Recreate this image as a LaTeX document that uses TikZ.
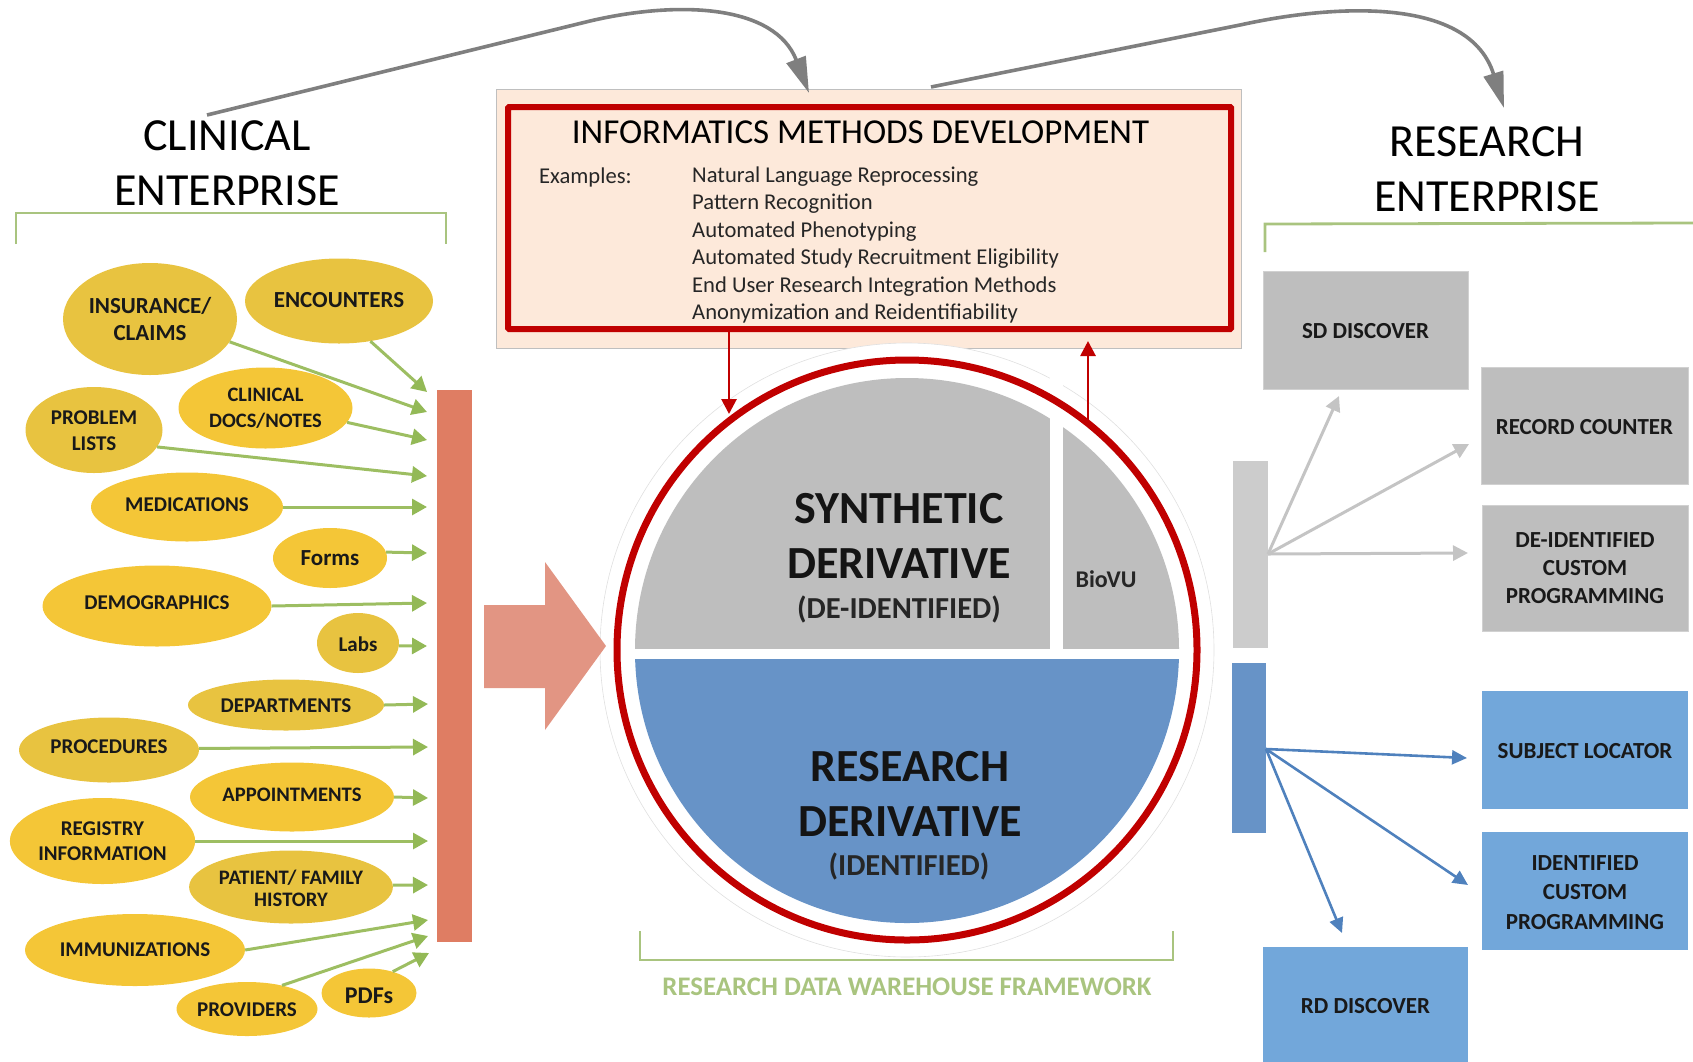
\documentclass[tikz,border=0pt]{standalone}
\usepackage{fontspec}
\setmainfont{Carlito}
\usetikzlibrary{shapes.geometric,arrows.meta}
\definecolor{ybright}{HTML}{F4C637}
\definecolor{ydark}{HTML}{E8C340}
\definecolor{gline}{HTML}{9DBE62}
\definecolor{gtip}{HTML}{93B956}
\definecolor{salmon}{HTML}{DF7D63}
\definecolor{bigarrow}{HTML}{E29583}
\definecolor{peach}{HTML}{FDE9DA}
\definecolor{dred}{HTML}{C00000}
\definecolor{midgrey}{HTML}{BEBEBE}
\definecolor{lightbar}{HTML}{CCCCCC}
\definecolor{arrgrey}{HTML}{C4C4C4}
\definecolor{wblue}{HTML}{6793C7}
\definecolor{boxblue}{HTML}{72A7DA}
\definecolor{arrblue}{HTML}{4F81BD}
\definecolor{topgrey}{HTML}{7F7F7F}
\definecolor{frame}{HTML}{A9C47F}
\newcommand{\shifty}[2]{\raisebox{#1}{#2}}
\newcommand{\lift}[1]{\rule{0pt}{#1}}
\tikzset{
  oval/.style={ellipse,inner sep=0pt,align=center,font=\fontsize{21}{26}\selectfont\bfseries,text=black!90},
  yb/.style={oval,fill=ybright},
  yd/.style={oval,fill=ydark},
  feed/.style={draw=gline,line width=3pt,-{Triangle[length=15pt,width=16pt,color=gtip]}},
  boxg/.style={rectangle,inner sep=0pt,align=center,fill=midgrey,font=\fontsize{23}{28}\selectfont\bfseries,text=black!90,draw=black!18,line width=.6pt},
  boxb/.style={boxg,fill=boxblue,draw=none},
  fangrey/.style={draw=arrgrey,line width=3pt,-{Triangle[length=15pt,width=15pt]}},
  fanblue/.style={draw=arrblue,line width=2.6pt,-{Triangle[length=15pt,width=14pt]}},
  redarrow/.style={draw=dred,line width=2.8pt,-{Triangle[length=15pt,width=15pt]}},
  toparrow/.style={draw=topgrey,line width=3.6pt,-{Triangle[length=36pt,width=20pt]}},
  headtext/.style={font=\fontsize{46}{55}\selectfont,align=center,text=black},
  bracket/.style={draw=frame,line width=2.8pt},
  bigtext/.style={font=\fontsize{46}{55}\selectfont\bfseries,align=center,text=black!92},
  subtext/.style={font=\fontsize{30.5}{34}\selectfont\bfseries,text=black!85},
  itemtext/.style={anchor=west,font=\fontsize{22.6}{27}\selectfont,text=black!85,inner sep=0pt},
}
\begin{document}
\begin{tikzpicture}[x=1pt,y=-1pt]
\useasboundingbox (0,0) rectangle (1693,1061);

% headings and brackets
\node[headtext] (clin) at (227,163) {CLINICAL\\ENTERPRISE};
\node[headtext] (rese) at (1487,169) {RESEARCH\\ENTERPRISE};
\draw[bracket] (16,244) -- (16,213) -- (446,213) -- (446,244);
\draw[bracket] (1265,252) -- (1265,224) -- (1693,223);

% salmon bar
\node[rectangle,fill=salmon,inner sep=0pt,minimum width=35pt,minimum height=552pt] (bar) at (454.5,666) {};

% ovals
\node[yd,font=\fontsize{23}{27}\selectfont\bfseries,minimum width=174pt,minimum height=112pt] (ins) at (150,319) {INSURANCE/\\CLAIMS};
\node[yd,font=\fontsize{23}{27}\selectfont\bfseries,minimum width=188pt,minimum height=85pt] (enc) at (339,301) {\shifty{3pt}{ENCOUNTERS}};
\node[yb,font=\fontsize{20.5}{26}\selectfont\bfseries,minimum width=174pt,minimum height=81pt] (cli) at (265.5,408) {CLINICAL\\DOCS/NOTES};
\node[yd,font=\fontsize{21}{26}\selectfont\bfseries,minimum width=137pt,minimum height=86pt] (pro) at (94,430) {\lift{16pt}PROBLEM\\LISTS};
\node[yb,minimum width=192pt,minimum height=69pt] (med) at (187,507) {\shifty{4pt}{MEDICATIONS}};
\node[yb,font=\fontsize{23}{26}\selectfont\bfseries,minimum width=114pt,minimum height=60pt] (for) at (330,558) {Forms};
\node[yb,minimum width=229pt,minimum height=81pt] (dem) at (157,606) {\shifty{7pt}{DEMOGRAPHICS}};
\node[yd,minimum width=82pt,minimum height=60pt] (lab) at (358,643) {\lift{17pt}Labs};
\node[yd,minimum width=196pt,minimum height=51pt] (dep) at (286,705) {\lift{16pt}DEPARTMENTS};
\node[yd,minimum width=180pt,minimum height=65pt] (prc) at (109,750) {\shifty{7pt}{PROCEDURES}};
\node[yb,font=\fontsize{20.6}{26}\selectfont\bfseries,minimum width=204pt,minimum height=69pt] (app) at (292,797) {\shifty{4pt}{APPOINTMENTS}};
\node[yb,font=\fontsize{21}{25}\selectfont\bfseries,minimum width=185pt,minimum height=86pt] (reg) at (102.5,841) {\shifty{4pt}{\parbox{131pt}{\centering REGISTRY\\INFORMATION}}};
\node[yd,font=\fontsize{20.6}{22}\selectfont\bfseries,minimum width=202pt,minimum height=73pt] (pat) at (291,887) {\lift{18pt}PATIENT/ FAMILY\\HISTORY};
\node[yb,minimum width=220pt,minimum height=72pt] (imm) at (135,950) {IMMUNIZATIONS};
\node[yb,minimum width=141pt,minimum height=54pt] (prv) at (247,1009) {\lift{16pt}PROVIDERS};
\node[yb,font=\fontsize{24}{26}\selectfont\bfseries,minimum width=95pt,minimum height=49pt] (pdf) at (369,993) {\lift{22pt}PDFs};

% feed arrow ends
\coordinate (t1) at (427,392);
\coordinate (t2) at (427,412);
\coordinate (t3) at (427,440);
\coordinate (t4) at (427,476);
\coordinate (t5) at (427,507);
\coordinate (t6) at (427,553);
\coordinate (t7) at (427,603);
\coordinate (t8) at (427,646);
\coordinate (t9) at (428,704);
\coordinate (t10) at (428,747);
\coordinate (t11) at (428,798);
\coordinate (t12) at (428,841);
\coordinate (t13) at (428,885);
\coordinate (t14) at (428,920);
\coordinate (t15) at (428,936);
\coordinate (t16) at (429,953);
\draw[feed] (enc.-52) -- (t1);
\draw[feed] (ins.-16) -- (t2);
\draw[feed] (cli.-10) -- (t3);
\draw[feed] (pro.-15) -- (t4);
\draw[feed] (med.east) -- (t5);
\draw[feed] (for.6) -- (t6);
\draw[feed] (dem.east) -- (t7);
\draw[feed] (lab.-4) -- (t8);
\draw[feed] (dep.east) -- (t9);
\draw[feed] (prc.1) -- (t10);
\draw[feed] (app.east) -- (t11);
\draw[feed] (reg.east) -- (t12);
\draw[feed] (pat.1) -- (t13);
\draw[feed] (imm.east) -- (t14);
\draw[feed] (prv.34) -- (t15);
\draw[feed] (pdf.42) -- (t16);

% informatics box
\node[rectangle,fill=peach,draw=black!25,line width=.7pt,inner sep=0pt,minimum width=745pt,minimum height=259pt] (outer) at (868.5,219) {};
\node[rectangle,draw=dred,line width=6pt,rounded corners=1pt,inner sep=0pt,minimum width=723pt,minimum height=222pt] (inner) at (869.5,218) {};
\node[font=\fontsize{35}{40}\selectfont,text=black,inner sep=0pt] (title) at (860.5,132) {INFORMATICS METHODS DEVELOPMENT};
\node[itemtext] (ex) at (539,177) {Examples:};
\node[itemtext] (i1) at (692,177) {Natural Language Reprocessing};
\node[itemtext] (i2) at (692,204) {Pattern Recognition};
\node[itemtext] (i3) at (692,232) {Automated Phenotyping};
\node[itemtext] (i4) at (692,259) {Automated Study Recruitment Eligibility};
\node[itemtext] (i5) at (692,287) {End User Research Integration Methods};
\node[itemtext] (i6) at (692,313) {Anonymization and Reidentifiability};

% warehouse circle
\node[circle,fill=white,draw=black!12,line width=.6pt,inner sep=0pt,minimum size=614pt] (halo) at (907,650) {};
\fill[bigarrow] (484,605) -- (545,605) -- (545,562) -- (606,646) -- (545,730) -- (545,688) -- (484,688) -- cycle;
\begin{scope}
  \clip (600,300) rectangle (1200,648);
  \fill[midgrey] (907,650) circle[radius=272pt];
\end{scope}
\begin{scope}
  \clip (600,659) rectangle (1200,960);
  \fill[wblue] (907,651) circle[radius=272pt];
\end{scope}
\fill[white] (1049.5,370) rectangle (1062.5,659);
\node[circle,draw=dred,line width=7pt,inner sep=0pt,minimum size=580pt] (ring) at (907,650) {};
\node[bigtext] (syn) at (899,536) {SYNTHETIC\\DERIVATIVE};
\node[subtext] (deid) at (899,609) {(DE-IDENTIFIED)};
\node[font=\fontsize{24}{28}\selectfont\bfseries,text=black!85] (bio) at (1106,579) {BioVU};
\node[bigtext] (res) at (910,794) {RESEARCH\\DERIVATIVE};
\node[subtext] (idn) at (909,866) {(IDENTIFIED)};

\coordinate (rd1) at (729,332);
\coordinate (rd2) at (729,414);
\coordinate (ru1) at (1088,421);
\coordinate (ru2) at (1088,341);
\draw[redarrow] (rd1) -- (rd2);
\draw[redarrow] (ru1) -- (ru2);

% top curved arrows
\coordinate (a1) at (207,115);
\coordinate (a2) at (809,93);
\coordinate (b1) at (931,87);
\coordinate (b2) at (1504,108);
\draw[toparrow] (a1) -- (590,21) .. controls (680,0) and (775,5) .. (a2);
\draw[toparrow] (b1) -- (1240,25) .. controls (1340,3) and (1470,-2) .. (b2);

% bottom bracket
\draw[bracket] (640,931) -- (640,960) -- (1173,960) -- (1173,931);
\node[font=\fontsize{26.8}{30}\selectfont\bfseries,text=frame] (rdw) at (907,987) {RESEARCH DATA WAREHOUSE FRAMEWORK};

% right side
\node[rectangle,fill=lightbar,inner sep=0pt,minimum width=35pt,minimum height=187pt] (gb) at (1250.5,554.5) {};
\node[rectangle,fill=wblue,inner sep=0pt,minimum width=34pt,minimum height=170pt] (bb) at (1249,748) {};
\node[boxg,minimum width=205pt,minimum height=118pt] (sd) at (1365.5,330) {\lift{18pt}SD DISCOVER};
\node[boxg,minimum width=207pt,minimum height=117pt] (rc) at (1584.5,425.5) {\lift{18pt}RECORD COUNTER};
\node[boxg,minimum width=206pt,minimum height=126pt] (di) at (1585,568.5) {DE-IDENTIFIED\\CUSTOM\\PROGRAMMING};
\node[boxb,minimum width=206pt,minimum height=118pt] (sl) at (1585,749.5) {\lift{18pt}SUBJECT LOCATOR};
\node[boxb,font=\fontsize{23}{29.5}\selectfont\bfseries,minimum width=206pt,minimum height=118pt] (ic) at (1585,891) {\lift{18pt}IDENTIFIED\\CUSTOM\\PROGRAMMING};
\node[boxb,minimum width=205pt,minimum height=115pt] (rd) at (1365.5,1004) {\lift{20pt}RD DISCOVER};
\coordinate (gs) at (1268,554);
\coordinate (bs) at (1266,749);
\coordinate (g1) at (1339,396);
\coordinate (g2) at (1469,444);
\coordinate (g3) at (1468,553);
\coordinate (b1e) at (1467,758);
\coordinate (b2e) at (1468,885);
\coordinate (b3e) at (1342,933);
\draw[fangrey] (gs) -- (g1);
\draw[fangrey] (gs) -- (g2);
\draw[fangrey] (gs) -- (g3);
\draw[fanblue] (bs) -- (b1e);
\draw[fanblue] (bs) -- (b2e);
\draw[fanblue] (bs) -- (b3e);
\end{tikzpicture}
\end{document}
